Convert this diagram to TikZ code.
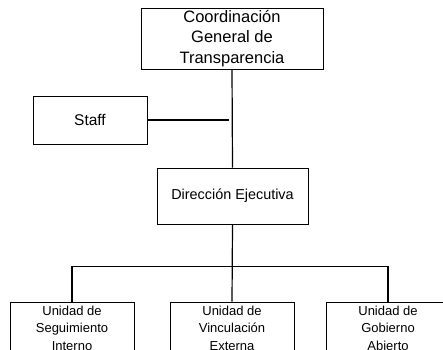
\documentclass[tikz,border=0pt]{standalone}
\usepackage{fontspec}
\setmainfont{Liberation Sans}
\usetikzlibrary{calc}

\begin{document}
\begin{tikzpicture}[x=1pt,y=-1pt,
  caja/.style={draw, line width=0.8pt, align=center, inner sep=0pt},
  linea/.style={line width=1.2pt}]

\clip (0,0) rectangle (443,349);

\node[caja, minimum width=182pt, minimum height=61pt, font=\fontsize{16.5}{20.5}\selectfont] (cgt) at (232,38.5) {Coordinación\\General de\\Transparencia};
\node[caja, minimum width=114pt, minimum height=48pt, font=\fontsize{15.5}{17}\selectfont] (staff) at (90,120) {Staff};
\node[caja, minimum width=151pt, minimum height=56pt, font=\fontsize{14.4}{17}\selectfont] (dir) at (232.5,196) {Dirección Ejecutiva};

\node[caja, minimum width=124pt, minimum height=52pt, font=\fontsize{13}{17.5}\selectfont] (usi) at (72,328) {Unidad de\\Seguimiento\\Interno};
\node[caja, minimum width=124pt, minimum height=52pt, font=\fontsize{13}{17.5}\selectfont] (uve) at (232,328) {Unidad de\\Vinculación\\Externa};
\node[caja, minimum width=124pt, minimum height=52pt, font=\fontsize{13}{17.5}\selectfont] (ugo) at (388,328) {Unidad de\\Gobierno\\Abierto};

\draw[linea] (cgt.south) -- (dir.north);
\draw[linea] (staff.east) -- ($(cgt.south |- staff.east)+(-3,0)$);
\draw[linea] (dir.south) -- (uve.north);
\draw[linea] (usi.north) -- ++(0,-35) -| (ugo.north);

\end{tikzpicture}
\end{document}
